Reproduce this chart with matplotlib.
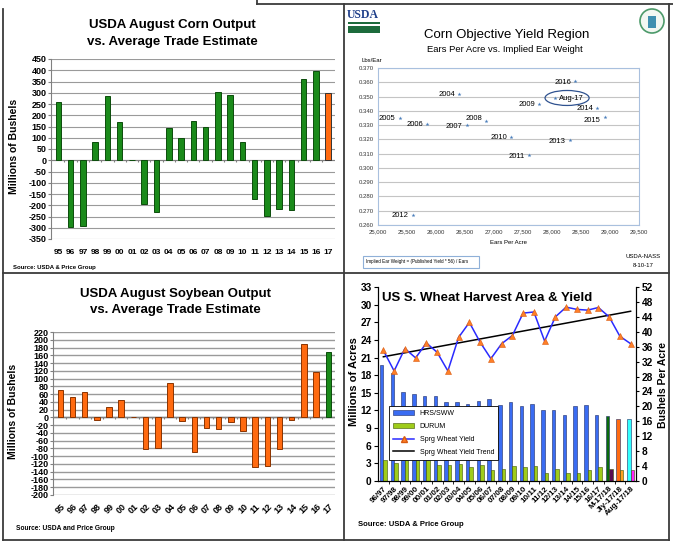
import matplotlib.pyplot as plt
import numpy as np
from matplotlib.lines import Line2D
from matplotlib.patches import Patch, Ellipse, Rectangle

plt.rcParams['font.family'] = ['Liberation Sans', 'DejaVu Sans']
plt.rcParams['axes.unicode_minus'] = False

W, H = 673, 547

# ---- corn / soybean surprise (USDA Aug vs trade estimate) ----
years = ["95", "96", "97", "98", "99", "00", "01", "02", "03", "04", "05", "06",
         "07", "08", "09", "10", "11", "12", "13", "14", "15", "16", "17"]
corn_diff = [260, -295, -293, 80, 285, 170, 3, -195, -232, 142, 97, 175,
             147, 305, 292, 80, -170, -248, -218, -222, 360, 397, 300]
soy_diff = [70, 52, 65, -7, 28, 44, 2, -82, -80, 88, -10, -90,
            -28, -30, -13, -36, -128, -125, -82, -7, 190, 118, 168]

# ---- corn objective yield region ----
oy_labels = ["2004", "2005", "2006", "2007", "2008", "2009", "2010", "2011",
             "2012", "2013", "2014", "2015", "2016", "Aug-17"]
ears = [26400, 25375, 25845, 26530, 26870, 27780, 27300, 27595,
        25605, 28305, 28780, 28910, 28405, 28060]
ear_wt = [0.352, 0.335, 0.331, 0.330, 0.333, 0.345, 0.322, 0.309,
          0.267, 0.3195, 0.342, 0.3357, 0.3607, 0.3487]

# ---- spring wheat ----
seasons = ["96/97", "97/98", "98/99", "99/00", "00/01", "01/02", "02/03", "03/04",
           "04/05", "05/06", "06/07", "07/08", "08/09", "09/10", "10/11", "11/12",
           "12/13", "13/14", "14/15", "15/16", "16/17", "M-17/18", "Jly-17/18", "Aug-17/18"]
hrs_area = [19.7, 18.3, 15.1, 14.8, 14.5, 14.5, 13.4, 13.4, 13.1, 13.6, 13.9, 12.9,
            13.4, 12.8, 13.1, 12.0, 12.0, 11.3, 12.7, 12.9, 11.3, 11.1, 10.6, 10.6]
durum_area = [3.5, 3.1, 3.7, 3.6, 3.6, 2.8, 2.8, 2.9, 2.4, 2.8, 1.8, 2.1,
              2.6, 2.4, 2.5, 1.3, 2.1, 1.4, 1.4, 1.9, 2.4, 2.0, 1.9, 1.9]
sprg_yield = [35.0, 29.5, 35.5, 33.0, 37.0, 34.5, 29.5, 38.5, 42.5, 37.2, 32.8, 36.8,
              39.0, 45.0, 45.3, 37.5, 44.0, 46.6, 46.0, 45.8, 46.5, 44.0, 38.8, 36.8]
trend_ends = [33.3, 45.5]

fig = plt.figure(figsize=(W / 100, H / 100), dpi=100)


def fax(x0, y0, x1, y1):
    return fig.add_axes([x0 / W, 1 - y1 / H, (x1 - x0) / W, (y1 - y0) / H])


def ftext(x, y, s, **kw):
    fig.text(x / W, 1 - y / H, s, **kw)


def fline(x0, y0, x1, y1, **kw):
    fig.add_artist(Line2D([x0 / W, x1 / W], [1 - y0 / H, 1 - y1 / H],
                          transform=fig.transFigure, color="#3c3c3c", lw=1.3, **kw))


GREEN = "#1a8a1a"
ORANGE = "#ff6a10"


def surprise_panel(ax, vals, colors, edges, ylo, yhi, step, grid_lw):
    x = np.arange(len(vals))
    ax.bar(x, vals, width=0.45, color=colors, edgecolor=edges, lw=0.7, zorder=3)
    ax.vlines(x[:-1] + 0.5, -(yhi - ylo) * 0.01, 0, color="#808080", lw=0.8, zorder=2)
    ax.axhline(0, color="#808080", lw=grid_lw, zorder=2)
    ax.set_ylim(ylo, yhi)
    ax.set_yticks(range(ylo, yhi + 1, step))
    ax.set_xlim(-0.6, len(vals) - 0.45)
    ax.grid(axis="y", color="#9a9a9a", lw=grid_lw)
    ax.set_axisbelow(True)
    for s in ["top", "right", "bottom"]:
        ax.spines[s].set_visible(False)
    ax.spines["left"].set_color("#808080")
    ax.tick_params(axis="y", length=2, color="#808080", pad=1)
    for t in ax.get_yticklabels():
        t.set_fontweight("bold")
        t.set_fontsize(6.5)
    return x


# ============ top-left: corn ============
ax = fax(51, 59, 335, 239)
x = surprise_panel(ax, corn_diff, [GREEN] * (len(years) - 1) + [ORANGE],
                   ["#0b4d0b"] * (len(years) - 1) + ["#333333"], -350, 450, 50, 0.8)
ax.set_xticks(x)
ax.set_xticklabels(years, fontsize=6, fontweight="bold")
ax.tick_params(axis="x", length=0, pad=7)
ftext(172, 25, "USDA August Corn Output", ha="center", va="center", fontsize=9.5, fontweight="bold")
ftext(172, 42, "vs. Average Trade Estimate", ha="center", va="center", fontsize=9.5, fontweight="bold")
ftext(14, 146, "Millions of Bushels", rotation=90, ha="center", va="center", fontsize=7.5, fontweight="bold")
ftext(13, 267, "Source: USDA & Price Group", ha="left", va="center", fontsize=4.3, fontweight="bold")

# ============ bottom-left: soybeans ============
ax = fax(53, 332, 335, 495)
x = surprise_panel(ax, soy_diff, [ORANGE] * (len(years) - 1) + [GREEN],
                   ["#8a3300"] * (len(years) - 1) + ["#0b4d0b"], -200, 220, 20, 1.0)
ax.set_xticks(x)
ax.set_xticklabels(years, fontsize=6.5, fontweight="bold", rotation=45)
ax.tick_params(axis="x", length=0, pad=5)
ftext(175, 294, "USDA August Soybean Output", ha="center", va="center", fontsize=9.5, fontweight="bold")
ftext(175, 310, "vs. Average Trade Estimate", ha="center", va="center", fontsize=9.5, fontweight="bold")
ftext(13, 411, "Millions of Bushels", rotation=90, ha="center", va="center", fontsize=7.5, fontweight="bold")
ftext(16, 528, "Source: USDA and Price Group", ha="left", va="center", fontsize=4.8, fontweight="bold")

# ============ top-right: objective yield scatter ============
ax = fax(378, 68, 639, 225)
ax.scatter(ears, ear_wt, marker="*", s=9, color="#4a7ebb", zorder=3, lw=0)
nudge = {"2008": 2.0, "2015": -2.5, "2016": -1.0}
for lab, ex, ew in zip(oy_labels, ears, ear_wt):
    if lab == "Aug-17":
        ax.annotate(lab, (ex, ew), xytext=(2.5, 0), textcoords="offset points",
                    ha="left", va="center", fontsize=5.5)
        ax.add_patch(Ellipse((ex + 200, ew + 0.0003), 760, 0.0105, fill=False,
                             ec="#2f528f", lw=0.9, zorder=4))
    else:
        ax.annotate(lab, (ex, ew), xytext=(-3, nudge.get(lab, -0.7)), textcoords="offset points",
                    ha="right", va="center", fontsize=5.5)
ax.set_xlim(25000, 29500)
ax.set_ylim(0.26, 0.37)
ax.set_xticks(range(25000, 29501, 500))
ax.set_xticklabels([f"{v:,}" for v in range(25000, 29501, 500)])
ax.set_yticks(np.arange(0.26, 0.3701, 0.01))
ax.set_yticklabels([f"{v:.3f}" for v in np.arange(0.26, 0.3701, 0.01)])
ax.tick_params(labelsize=4.3, length=0, pad=3, colors="#333333")
ax.grid(axis="y", color="#c4c4c4", lw=0.8)
ax.set_axisbelow(True)
for s in ax.spines.values():
    s.set_color("#a9c0de")
    s.set_linewidth(0.8)
ftext(507, 35, "Corn Objective Yield Region", ha="center", va="center", fontsize=9.5)
ftext(505, 50, "Ears Per Acre vs. Implied Ear Weight", ha="center", va="center", fontsize=6.8)
ftext(372, 61, "Lbs/Ear", ha="center", va="center", fontsize=4.3)
ftext(509, 242, "Ears Per Acre", ha="center", va="center", fontsize=4.3)
fig.add_artist(Rectangle((363 / W, 1 - 268 / H), 116 / W, 12 / H, transform=fig.transFigure,
                         fill=False, ec="#8fb0d8", lw=0.8))
ftext(366, 262, "Implied Ear Weight = (Published Yield * 56) / Ears", ha="left", va="center",
      fontsize=3.3)
ftext(643, 257, "USDA-NASS", ha="center", va="center", fontsize=4.3)
ftext(643, 265, "8-10-17", ha="center", va="center", fontsize=4.3)
# logos (rough)
ftext(347, 15, "USDA", ha="left", va="center", fontsize=8.5, fontweight="bold",
      family=["Liberation Serif", "DejaVu Serif"], color="#1f3f8a")
fig.add_artist(Rectangle((348 / W, 1 - 33 / H), 32 / W, 11 / H, transform=fig.transFigure,
                         color="#1d6b3c", lw=0))
fig.add_artist(Rectangle((348 / W, 1 - 26 / H), 32 / W, 1.5 / H, transform=fig.transFigure,
                         color="white", lw=0))
fig.add_artist(Ellipse((652 / W, 1 - 21 / H), 24 / W, 24 / H, transform=fig.transFigure,
                       fc="#f2f7f2", ec="#4c9a6a", lw=1.2))
fig.add_artist(Rectangle((648 / W, 1 - 28 / H), 8 / W, 12 / H, transform=fig.transFigure,
                         color="#3f8fb0", lw=0))

# ============ bottom-right: spring wheat ============
ax1 = fax(378, 287, 636, 481)
xw = np.arange(len(seasons))
hrs_colors = ["#3a6cf2"] * 21 + ["#0b6b0b", "#ff6a10", "#33ffff"]
dur_colors = ["#9fcc1a"] * 21 + ["#5a0a50", "#ffa020", "#ff22ff"]
ax1.bar(xw - 0.17, hrs_area, width=0.33, color=hrs_colors, edgecolor="#1c2a66", lw=0.4, zorder=2)
ax1.bar(xw + 0.17, durum_area, width=0.33, color=dur_colors, edgecolor="#3d5200", lw=0.4, zorder=2)
ax1.set_xlim(-0.5, len(seasons) - 0.5)
ax1.set_ylim(0, 33)
ax1.set_yticks(range(0, 34, 3))
ax1.set_xticks(xw)
ax1.set_xticklabels(seasons, rotation=45, ha="right", rotation_mode="anchor",
                    fontsize=5.8, fontweight="bold")
ax1.set_xticks(xw[:-1] + 0.5, minor=True)
ax1.tick_params(axis="x", which="major", length=0, pad=3)
ax1.tick_params(axis="x", which="minor", length=2.5)
ax1.tick_params(axis="y", length=3, labelsize=7.3, pad=1.5)
for t in ax1.get_yticklabels():
    t.set_fontweight("bold")
ax1.spines["top"].set_visible(False)

ax2 = ax1.twinx()
ax2.plot(xw, sprg_yield, color="#2a2aff", lw=1.1, marker="^", ms=4.5,
         mfc="#ff7f27", mec="#d85a10", mew=0.4, zorder=3)
ax2.plot([xw[0], xw[-1]], trend_ends, color="black", lw=1.1, zorder=2)
ax2.set_ylim(0, 52)
ax2.set_yticks(range(0, 53, 4))
ax2.tick_params(axis="y", length=2.5, labelsize=7.3, pad=1.5)
for t in ax2.get_yticklabels():
    t.set_fontweight("bold")
ax2.spines["top"].set_visible(False)

handles = [Patch(fc="#3a6cf2", ec="#1c2a66", lw=0.4),
           Patch(fc="#9fcc1a", ec="#3d5200", lw=0.4),
           Line2D([], [], color="#2a2aff", lw=1.1, marker="^", ms=4, mfc="#ff7f27", mec="#d85a10"),
           Line2D([], [], color="black", lw=1.1)]
leg = ax2.legend(handles, ["HRS/SWW", "DURUM", "Sprg Wheat Yield", "Sprg Wheat Yield Trend"],
                 loc="upper left", bbox_to_anchor=(389 / W, 1 - 406 / H), bbox_transform=fig.transFigure,
                 fontsize=5, frameon=True, fancybox=False, framealpha=1, edgecolor="black",
                 labelspacing=0.85, handlelength=3.0, borderpad=0.6, handletextpad=0.8,
                 borderaxespad=0)
leg.get_frame().set_linewidth(0.6)
leg.set_zorder(10)

ftext(487, 298, "US S. Wheat Harvest Area & Yield", ha="center", va="center", fontsize=9.5, fontweight="bold")
ftext(354, 382, "Millions of Acres", rotation=90, ha="center", va="center", fontsize=8, fontweight="bold")
ftext(663, 385, "Bushels Per Acre", rotation=90, ha="center", va="center", fontsize=7.5, fontweight="bold")
ftext(358, 524, "Source: USDA & Price Group", ha="left", va="center", fontsize=5.5, fontweight="bold")

# ============ panel frames ============
fline(3, 9, 3, 540)
fline(257, 4, 673, 4)
fline(257, 0, 257, 4)
fline(344, 4, 344, 540)
fline(3, 273, 669, 273)
fline(3, 540, 669, 540)
fline(669, 4, 669, 540)

fig.savefig("out.png", dpi=100)
